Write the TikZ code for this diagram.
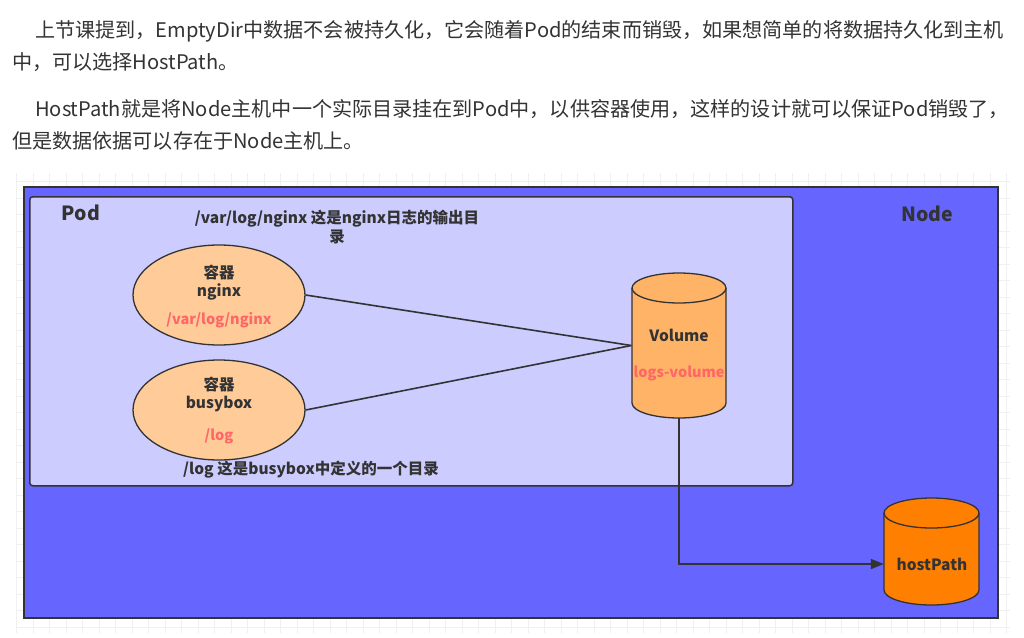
\documentclass[tikz,border=0pt]{standalone}
\usepackage{fontspec}
\setmainfont{Noto Sans CJK SC}
\usetikzlibrary{positioning,arrows.meta,shapes.geometric}
\definecolor{nodeblue}{HTML}{6666FF}
\definecolor{podblue}{HTML}{CCCCFF}
\definecolor{ctrfill}{HTML}{FFCC99}
\definecolor{volfill}{HTML}{FFB366}
\definecolor{hostfill}{HTML}{FF8000}
\definecolor{redtxt}{HTML}{FF6666}
\definecolor{ink}{HTML}{333333}
\newcommand{\para}{\fontsize{20.1}{24}\selectfont}

\begin{document}
\begin{tikzpicture}[x=1pt,y=-1pt,
box/.style={draw=ink,line width=1.5pt,anchor=north west,inner sep=0pt},
ctr/.style={ellipse,draw=ink,fill=ctrfill,line width=1.3pt,minimum width=172pt,minimum height=100pt},
slot/.style={inner sep=0pt,minimum width=95pt},
dbline/.style={draw=ink,line width=1.3pt},
lbl/.style={font=\bfseries\fontsize{15.5}{19}\selectfont,text=ink,inner sep=0pt,align=center},
redlbl/.style={lbl,text=redtxt,font=\bfseries\fontsize{14.5}{17}\selectfont},
title/.style={lbl,font=\bfseries\fontsize{19.5}{22}\selectfont},
link/.style={draw=ink,line width=1.6pt},
txt/.style={anchor=base west,inner sep=0pt,text=ink,font=\para}]
\useasboundingbox (0,0) rectangle (1024,637);
\fill[white] (0,0) rectangle (1024,637);
% text above the picture
\node[txt] (p1a) at (35,37) {上节课提到，EmptyDir中数据不会被持久化，它会随着Pod的结束而销毁，如果想简单的将数据持久化到主机};
\node[txt] (p1b) at (12,69) {中，可以选择HostPath。};
\node[txt] (p2a) at (35,116) {HostPath就是将Node主机中一个实际目录挂在到Pod中，以供容器使用，这样的设计就可以保证Pod销毁了，};
\node[txt] (p2b) at (12,148) {但是数据依据可以存在于Node主机上。};
% canvas grid
\draw[gray!12,line width=0.6pt,step=16.5pt] (16,173) grid (1010,633);
% node and pod
\node[box,fill=nodeblue,minimum width=974pt,minimum height=431pt] (node) at (23,186) {};
\node[box,fill=podblue,rounded corners=3pt,minimum width=763pt,minimum height=289pt] (pod) at (29,196) {};
\node[title] (podname) at (81,213) {Pod};
\node[title] (nodename) at (927,214) {Node};
\node[lbl] (ngxnote) at (337,227) {/var/log/nginx 这是nginx日志的输出目\\录};
\node[lbl] (bbnote) at (311,470) {/log 这是busybox中定义的一个目录};
% containers
\node[ctr] (nginx) at (219,295) {};
\node[lbl] (ngxtype) at (219,272) {容器};
\node[lbl] (ngxname) at (219,292) {nginx};
\node[redlbl] (ngxdir) at (219,320) {/var/log/nginx};
\node[ctr] (busybox) at (219,410) {};
\node[lbl] (bbtype) at (219,384) {容器};
\node[lbl] (bbname) at (219,404) {busybox};
\node[redlbl] (bbdir) at (219,436) {/log};
% volumes (drums drawn by hand, node only for anchors)
\node[slot,minimum height=145pt] (vol) at (679,345.5) {};
\draw[dbline,fill=volfill] (632,288) -- (632,403) arc[start angle=180,end angle=0,x radius=47,y radius=15]
  -- (726,288) arc[start angle=0,end angle=-180,x radius=47,y radius=15] -- cycle;
\draw[dbline] (632,288) arc[start angle=180,end angle=0,x radius=47,y radius=15];
\node[lbl] (volname) at (679,335) {Volume};
\node[redlbl] (voldir) at (679,373) {logs-volume};
\node[slot,minimum height=107pt] (host) at (931.5,551.5) {};
\draw[dbline,fill=hostfill] (884,513) -- (884,590) arc[start angle=180,end angle=0,x radius=47.5,y radius=15]
  -- (979,513) arc[start angle=0,end angle=-180,x radius=47.5,y radius=15] -- cycle;
\draw[dbline] (884,513) arc[start angle=180,end angle=0,x radius=47.5,y radius=15];
\node[lbl] (hostname) at (932,564) {hostPath};
% connectors
\draw[link] (nginx.east) -- (vol.west);
\draw[link] (busybox.east) -- (vol.west);
\draw[link,-{Triangle[length=13pt,width=10pt]}] (vol.south) |- ([yshift=-12.5pt]host.west);
\end{tikzpicture}
\end{document}
